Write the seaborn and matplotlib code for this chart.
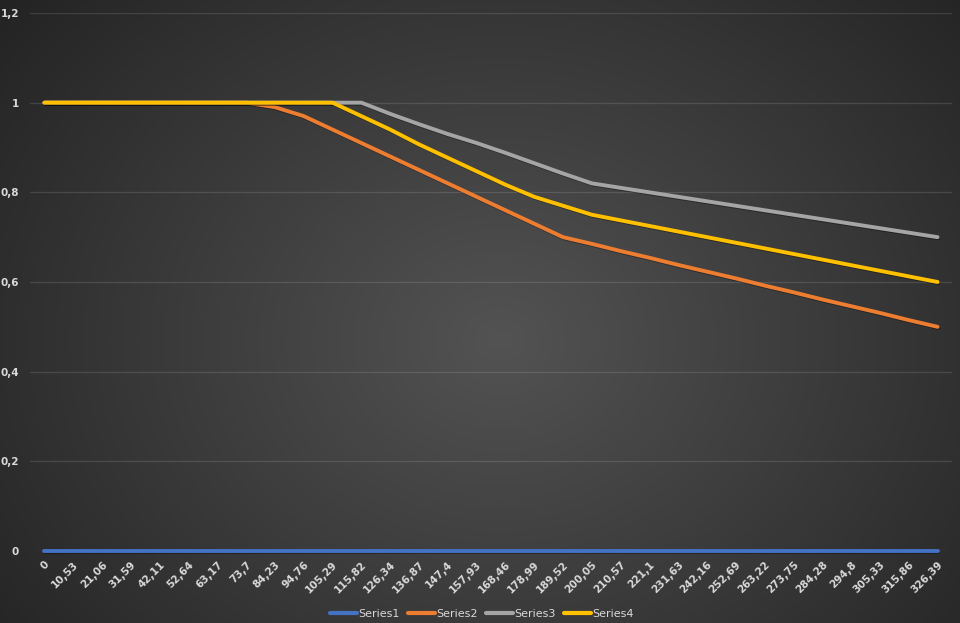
import numpy as np
import pandas as pd
import matplotlib
matplotlib.use("Agg")
import matplotlib.pyplot as plt
import matplotlib.patheffects as pe
import seaborn as sns

# x categories (as shown on the axis, comma decimals)
categories = ["0", "10,53", "21,06", "31,59", "42,11", "52,64", "63,17", "73,7",
              "84,23", "94,76", "105,29", "115,82", "126,34", "136,87", "147,4",
              "157,93", "168,46", "178,99", "189,52", "200,05", "210,57", "221,1",
              "231,63", "242,16", "252,69", "263,22", "273,75", "284,28", "294,8",
              "305,33", "315,86", "326,39"]

series1 = [0.0] * 32
series2 = [1, 1, 1, 1, 1, 1, 1, 1, 0.99, 0.97, 0.94, 0.91, 0.88, 0.85, 0.82, 0.79,
           0.76, 0.73, 0.70, 0.685, 0.669, 0.654, 0.638, 0.623, 0.608, 0.592,
           0.577, 0.561, 0.546, 0.531, 0.515, 0.50]
series3 = [1, 1, 1, 1, 1, 1, 1, 1, 1, 1, 1, 1, 0.975, 0.952, 0.93, 0.91, 0.888,
           0.865, 0.842, 0.82, 0.81, 0.80, 0.79, 0.78, 0.77, 0.76, 0.75, 0.74,
           0.73, 0.72, 0.71, 0.70]
series4 = [1, 1, 1, 1, 1, 1, 1, 1, 1, 1, 1, 0.97, 0.94, 0.907, 0.877, 0.847,
           0.817, 0.79, 0.77, 0.75, 0.7375, 0.725, 0.7125, 0.70, 0.6875, 0.675,
           0.6625, 0.65, 0.6375, 0.625, 0.6125, 0.60]

ytick_vals = [0, 0.2, 0.4, 0.6, 0.8, 1.0, 1.2]
ytick_labels = ["0", "0,2", "0,4", "0,6", "0,8", "1", "1,2"]

names = ["Series1", "Series2", "Series3", "Series4"]
colors = ["#4472C4", "#ED7D31", "#A5A5A5", "#FFC000"]

pos = np.arange(len(categories))
df = pd.concat([
    pd.DataFrame({"pos": pos, "value": vals, "series": name})
    for name, vals in zip(names, [series1, series2, series3, series4])
])

sns.set_style("white")
fig = plt.figure(figsize=(9.6, 6.23), dpi=100)

# radial gradient background
bg = fig.add_axes([0, 0, 1, 1], zorder=-10)
yy, xx = np.mgrid[0:623, 0:960]
r = np.sqrt(((xx - 500) / 620.0) ** 2 + ((yy - 340) / 520.0) ** 2)
shade = np.clip(0.325 - 0.18 * r, 0.14, 0.34)
bg.imshow(np.dstack([shade] * 3), aspect="auto", extent=[0, 1, 0, 1], origin="upper")
bg.axis("off")

ax = fig.add_axes([30 / 960, 72 / 623, 922 / 960, 538 / 623])
ax.patch.set_alpha(0)

sns.lineplot(data=df, x="pos", y="value", hue="series", palette=colors,
             linewidth=2.8, ax=ax, legend=True)
for line in ax.get_lines():
    line.set_path_effects([pe.SimpleLineShadow(offset=(0.6, -0.8), alpha=0.35),
                           pe.Normal()])
    line.set_solid_capstyle("round")
    line.set_clip_on(False)

ax.set_xlim(-0.5, len(categories) - 0.5)
ax.set_ylim(0, 1.2)
ax.set_yticks(ytick_vals)
ax.set_yticklabels(ytick_labels)
ax.set_xticks(pos)
ax.set_xticklabels(categories, rotation=45, ha="right", rotation_mode="anchor")
ax.tick_params(axis="both", length=0, colors="#d9d9d9", labelsize=7.5)
ax.tick_params(axis="y", pad=8)
ax.tick_params(axis="x", pad=6)
for lbl in ax.get_xticklabels() + ax.get_yticklabels():
    lbl.set_fontweight("bold")

ax.grid(axis="y", color="#ffffff", alpha=0.12, linewidth=0.9)
ax.set_axisbelow(True)
for s in ax.spines.values():
    s.set_visible(False)
ax.set_xlabel("")
ax.set_ylabel("")

handles, labels = ax.get_legend_handles_labels()
leg = ax.legend(handles, labels, loc="lower center", bbox_to_anchor=(0.49, -0.145),
                ncol=4, frameon=False, fontsize=8, handlelength=2.4,
                handletextpad=0.1, columnspacing=0.8)
for t in leg.get_texts():
    t.set_color("#d9d9d9")
for h in leg.get_lines():
    h.set_linewidth(3)
    h.set_path_effects([])

fig.savefig("out.png", dpi=100)
